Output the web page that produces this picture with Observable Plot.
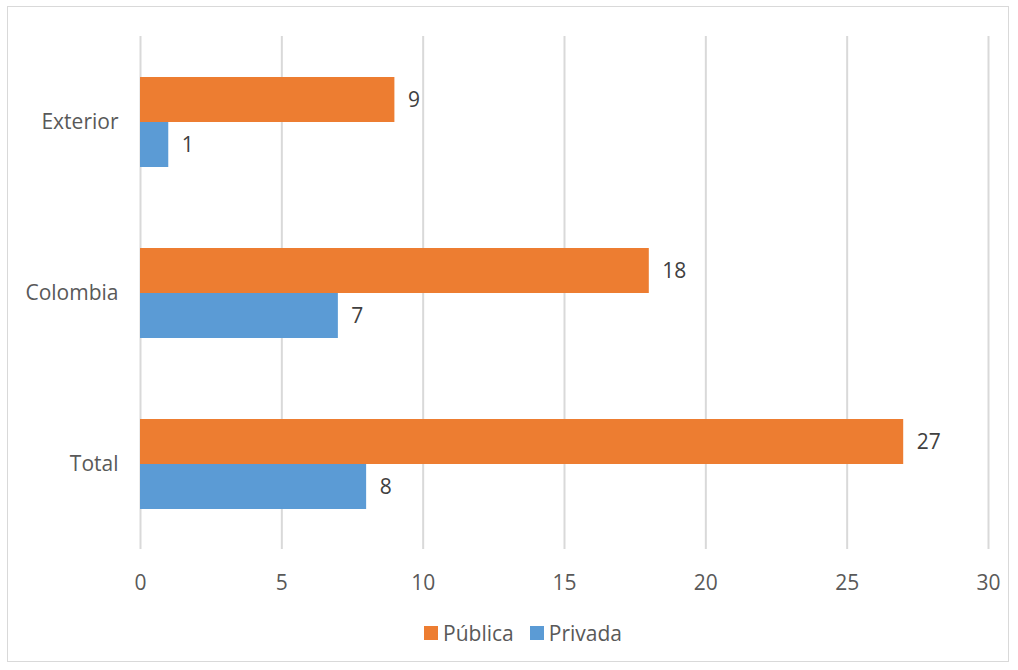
<!DOCTYPE html>
<html>
<head>
<meta charset="utf-8">
<script src="https://cdn.jsdelivr.net/npm/d3@7"></script>
<script src="https://cdn.jsdelivr.net/npm/@observablehq/plot@0.6"></script>
<style>
  html, body { margin: 0; padding: 0; background: #fff; }
  #wrap { position: relative; width: 1018px; height: 670px; font-family: "Open Sans", sans-serif; }
  #frame { position: absolute; left: 7px; top: 6px; width: 1002px; height: 656px; border: 1.5px solid #d9d9d9; box-sizing: border-box; }
  #chart { position: absolute; left: 0; top: 0; }
  #legend { position: absolute; left: 14px; top: 619px; width: 1018px; display: flex; justify-content: center; gap: 16px; font-size: 21px; color: #595959; }
  .item { display: flex; align-items: center; gap: 5px; }
  .sw { width: 14px; height: 14px; display: inline-block; }
</style>
</head>
<body>
<div id="wrap">
  <div id="frame"></div>
  <div id="chart"></div>
  <div id="legend"></div>
</div>
<script>
const categories = ["Exterior", "Colombia", "Total"];
const series = ["Pública", "Privada"];
const publica = [9, 18, 27];
const privada = [1, 7, 8];
const xTicks = [0, 5, 10, 15, 20, 25, 30];
const colors = ["#ED7D31", "#5B9BD5"];

const data = [];
categories.forEach((c, i) => {
  data.push({category: c, series: "Pública", value: publica[i]});
  data.push({category: c, series: "Privada", value: privada[i]});
});

const chart = Plot.plot({
  width: 1018,
  height: 610,
  marginLeft: 140,
  marginRight: 30,
  marginTop: 35,
  marginBottom: 60,
  style: {fontFamily: "Open Sans, sans-serif", fontSize: "21px", background: "transparent"},
  x: {domain: [0, 30]},
  y: {domain: series, axis: null, paddingInner: 0, paddingOuter: 0.886},
  fy: {domain: categories, padding: 0, label: null},
  color: {domain: series, range: colors},
  marks: [
    Plot.gridX(xTicks, {stroke: "#d9d9d9", strokeOpacity: 1, strokeWidth: 2}),
    Plot.barX(data, {x: "value", y: "series", fy: "category", fill: "series"}),
    Plot.text(data, {x: "value", y: "series", fy: "category", text: d => String(d.value), dx: 13, textAnchor: "start", fill: "#404040", fontSize: 21}),
    Plot.axisX({ticks: xTicks, tickSize: 0, tickPadding: 26, label: null, color: "#595959", fontSize: 21}),
    Plot.axisFy({anchor: "left", tickSize: 0, tickPadding: 22, label: null, color: "#595959", fontSize: 21})
  ]
});
document.getElementById("chart").appendChild(chart);

const legend = document.getElementById("legend");
series.forEach((s, i) => {
  const item = document.createElement("div");
  item.className = "item";
  const sw = document.createElement("span");
  sw.className = "sw";
  sw.style.background = colors[i];
  const t = document.createElement("span");
  t.textContent = s;
  item.appendChild(sw);
  item.appendChild(t);
  legend.appendChild(item);
});
</script>
</body>
</html>
